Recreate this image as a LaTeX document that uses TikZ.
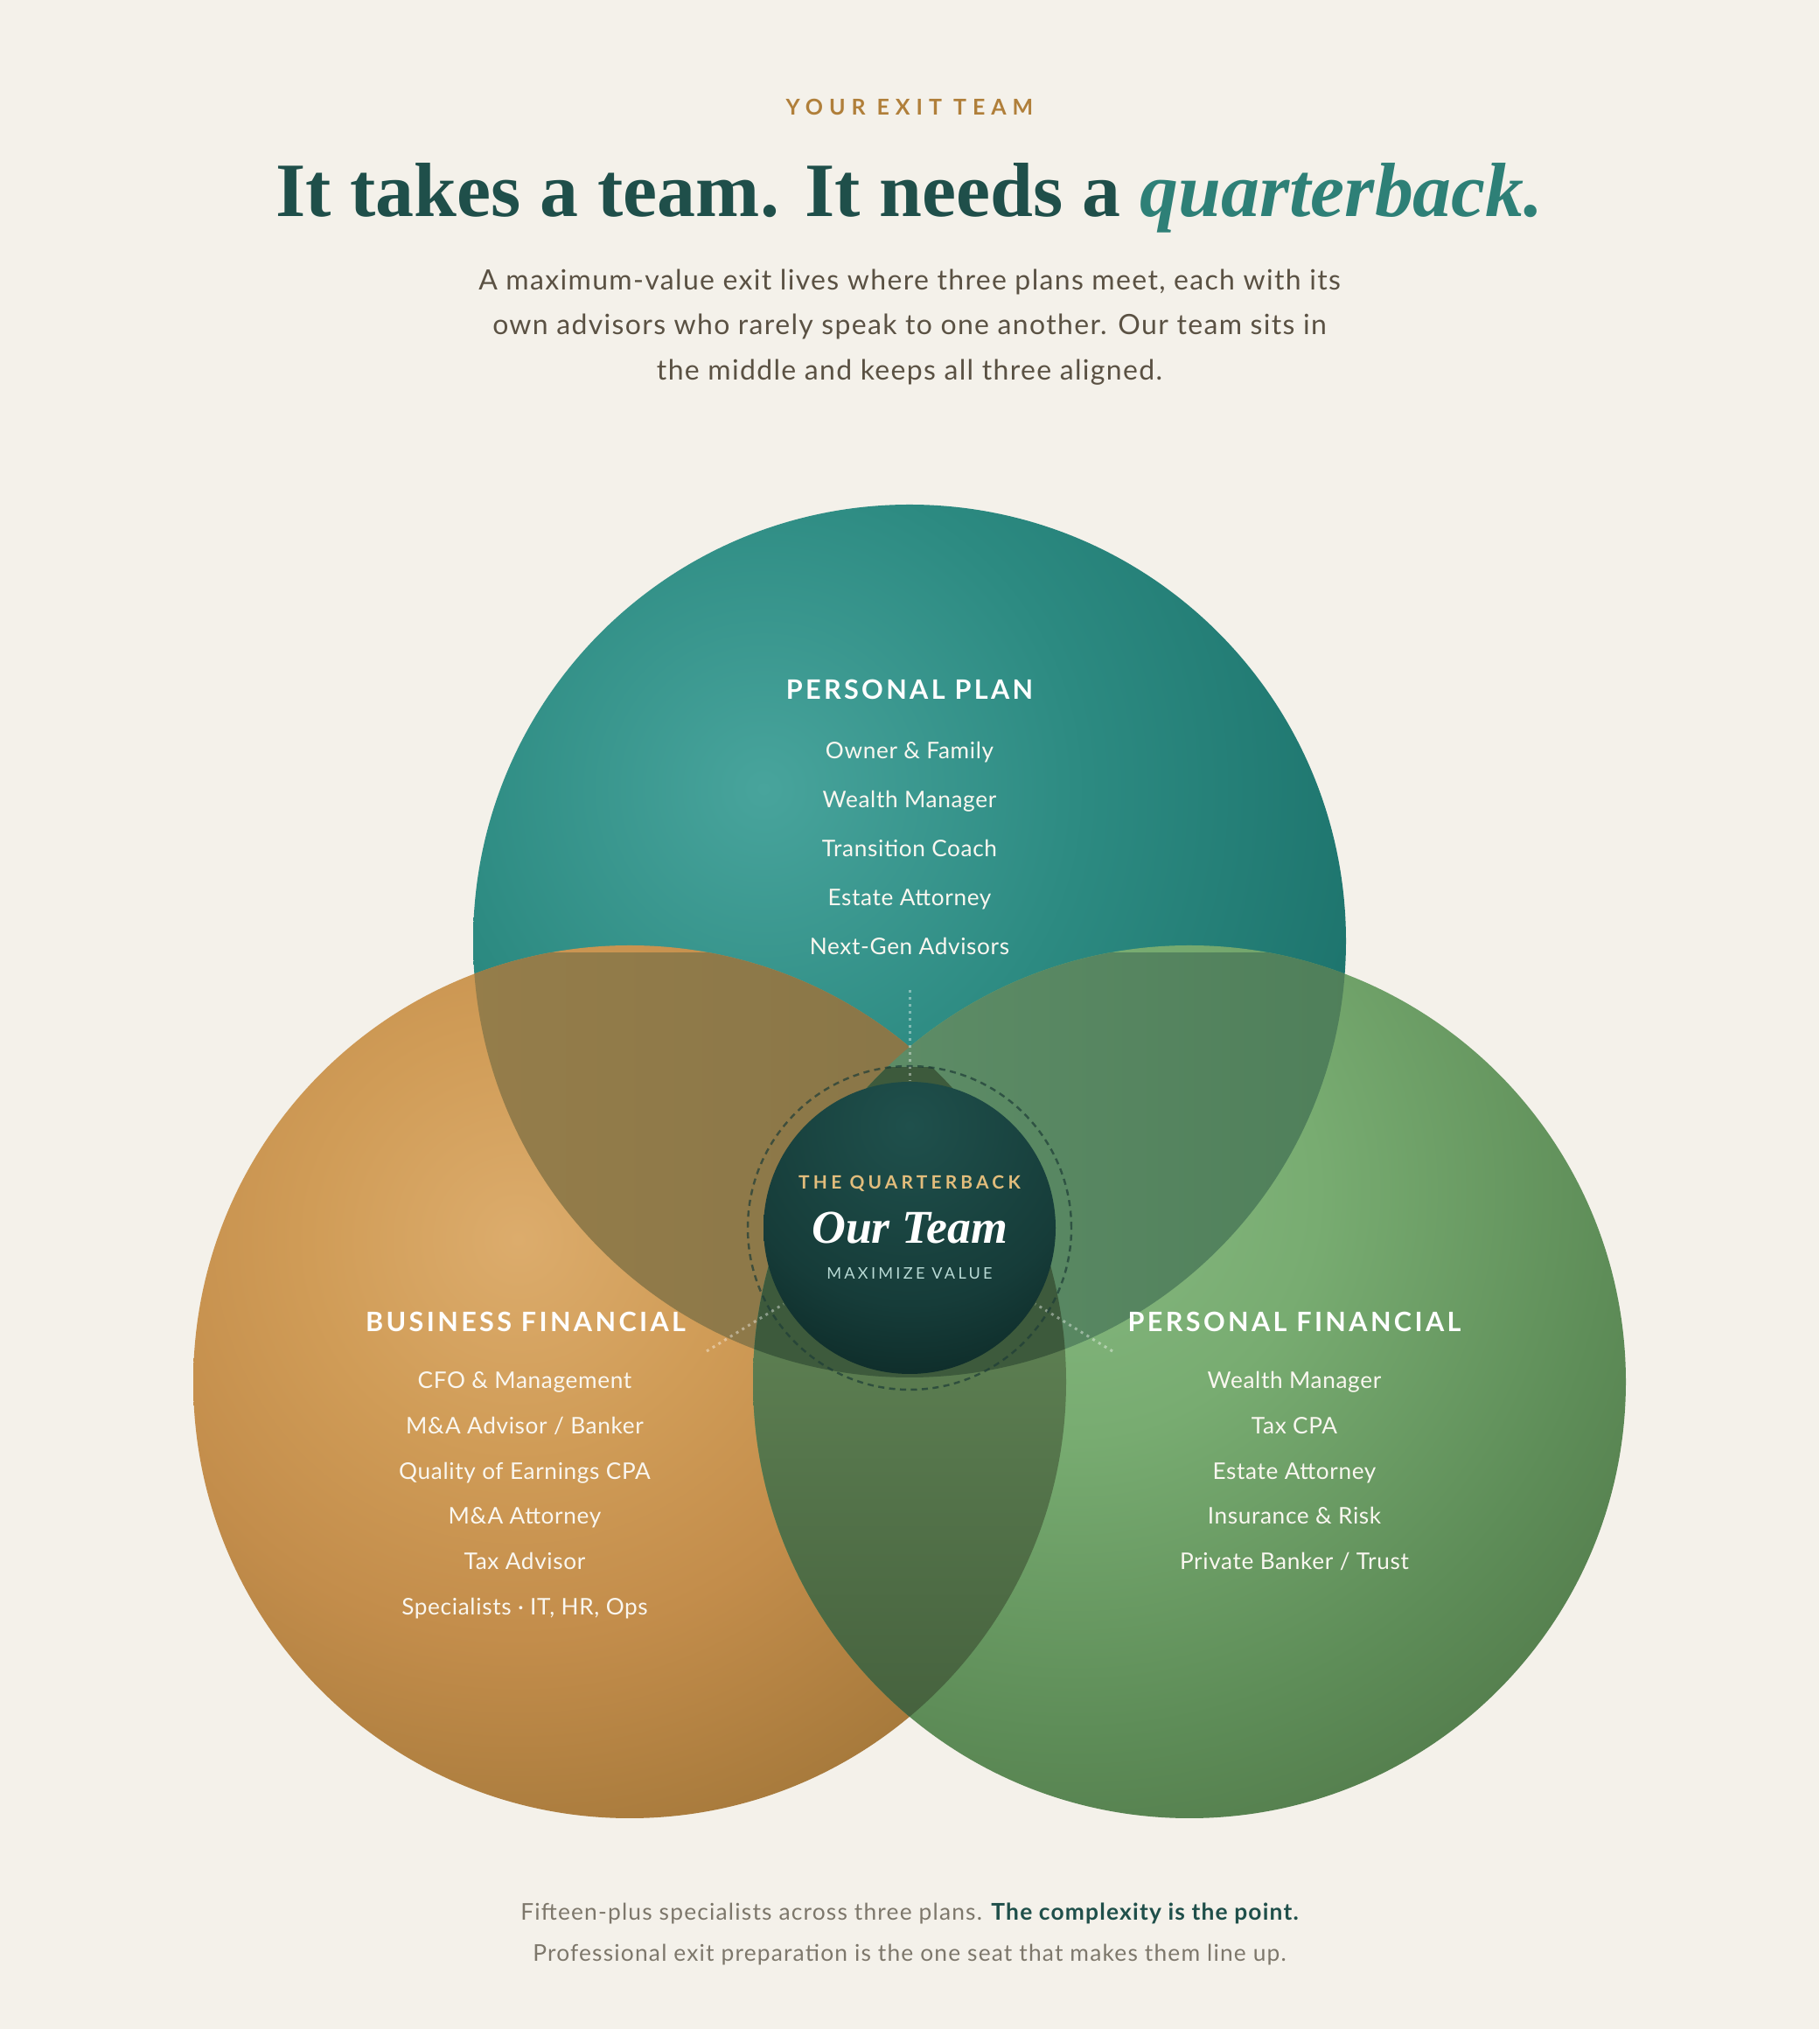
\documentclass[tikz,border=0pt]{standalone}
\usepackage{fontspec}
\setmainfont{Lato}
\newfontfamily\serifhead{Liberation Serif}
\usepackage{tikz}

% palette
\definecolor{pagebg}{HTML}{F4F1EA}
\definecolor{eyebrowink}{HTML}{B07F3A}
\definecolor{titleink}{HTML}{1F4F4A}
\definecolor{titleteal}{HTML}{2E8077}
\definecolor{subink}{HTML}{5A5143}
\definecolor{footink}{HTML}{7D776B}
\definecolor{itemink}{HTML}{FAF7F0}
\definecolor{qbgold}{HTML}{E2BD7C}
\definecolor{qbmint}{HTML}{B8DAD5}
\definecolor{tealhi}{HTML}{48A49C}
\definecolor{tealmid}{HTML}{2C8A81}
\definecolor{tealdk}{HTML}{1E756E}
\definecolor{goldhi}{HTML}{DCAC6C}
\definecolor{goldmid}{HTML}{D09C57}
\definecolor{goldlo}{HTML}{C38D4B}
\definecolor{golddk}{HTML}{A07538}
\definecolor{greenhi}{HTML}{86B880}
\definecolor{greenmid}{HTML}{78AC71}
\definecolor{greenlo}{HTML}{5E8D58}
\definecolor{greendk}{HTML}{557F4E}
\definecolor{qbhi}{HTML}{1F504C}
\definecolor{qbmid}{HTML}{163C39}
\definecolor{qbdk}{HTML}{0F2E2B}
\definecolor{ringink}{HTML}{1E3D37}
\definecolor{lensTLa}{HTML}{957D4A}
\definecolor{lensTLb}{HTML}{857447}
\definecolor{lensTRa}{HTML}{62906A}
\definecolor{lensTRb}{HTML}{4F7F5A}
\definecolor{lensLRa}{HTML}{5D7F52}
\definecolor{lensLRb}{HTML}{46623E}
\definecolor{tripleink}{HTML}{3D5A3C}

% glows, absolute radii (1cm = 28.35bp), centred on the highlight
\pgfdeclareradialshading{tealglow}{\pgfpointorigin}{color(0bp)=(tealhi); color(105bp)=(tealmid); color(196bp)=(tealdk); color(216bp)=(tealdk)}
\pgfdeclareradialshading{goldglow}{\pgfpointorigin}{color(0bp)=(goldhi); color(68bp)=(goldmid); color(129bp)=(goldlo); color(219bp)=(golddk); color(226bp)=(golddk)}
\pgfdeclareradialshading{greenglow}{\pgfpointorigin}{color(0bp)=(greenhi); color(79bp)=(greenmid); color(175bp)=(greenlo); color(218bp)=(greendk); color(222bp)=(greendk)}
\pgfdeclareradialshading{qbglow}{\pgfpointorigin}{color(0bp)=(qbhi); color(58bp)=(qbmid); color(81bp)=(qbdk); color(84bp)=(qbdk)}

\begin{document}
\begin{tikzpicture}[
  glow/.style={inner sep=0pt, outer sep=0pt},
  eyebrowtxt/.style={font=\fontsize{7.1}{8}\selectfont\bfseries\addfontfeatures{LetterSpace=28}, text=eyebrowink, anchor=base},
  titletxt/.style={font=\serifhead\bfseries\fontsize{25}{30}\selectfont, text=titleink, anchor=base},
  subtxt/.style={font=\fontsize{9.1}{10}\selectfont\addfontfeatures{LetterSpace=4.2}, text=subink, anchor=base},
  headtxt/.style={font=\fontsize{8.7}{10}\selectfont\bfseries\addfontfeatures{LetterSpace=11}, text=white, anchor=base},
  itemtxt/.style={font=\fontsize{7.45}{9}\selectfont\addfontfeatures{LetterSpace=2.5}, text=itemink, anchor=base},
  qbtag/.style={font=\fontsize{5.95}{7}\selectfont\bfseries\addfontfeatures{LetterSpace=20}, text=qbgold, anchor=base},
  qbname/.style={font=\serifhead\bfseries\itshape\fontsize{15.3}{17}\selectfont, text=white, anchor=base},
  qbsub/.style={font=\fontsize{5.16}{6}\selectfont\addfontfeatures{LetterSpace=18}, text=qbmint, anchor=base},
  foottxt/.style={font=\fontsize{7.5}{8}\selectfont\addfontfeatures{LetterSpace=4.5}, text=footink, anchor=base},
  spoke/.style={white, opacity=0.4, line width=0.85pt, dash pattern=on 0.85pt off 1.4pt},
  ring/.style={ringink, opacity=0.7, line width=0.7pt, dash pattern=on 2pt off 1.55pt}
]

  % page: 1 unit = 100 px
  \useasboundingbox (0,0) rectangle (20.8,23.2);
  \fill[pagebg] (0,0) rectangle (20.8,23.2);
  \def\plr{4.99}

  % --- Circle centres ---
  \coordinate (ctop) at (10.40,12.44);
  \coordinate (cleft) at (7.20,7.40);
  \coordinate (cright) at (13.60,7.40);
  \coordinate (ctr) at (10.40,9.16);

  % --- Personal Plan (teal) ---
  \begin{scope}
    \clip (ctop) circle (\plr);
    \node[glow] (tealglowbox) at (8.73,14.18) {\pgfuseshading{tealglow}};
  \end{scope}

  % --- Business Financial (gold) ---
  \begin{scope}
    \clip (cleft) circle (\plr);
    \node[glow] (goldglowbox) at (5.92,9.03) {\pgfuseshading{goldglow}};
  \end{scope}

  % --- Personal Financial (green) ---
  \begin{scope}
    \clip (cright) circle (\plr);
    \node[glow] (greenglowbox) at (12.28,9.59) {\pgfuseshading{greenglow}};
  \end{scope}

  % --- Overlaps ---
  \begin{scope}
    \clip (ctop) circle (\plr);
    \clip (cleft) circle (\plr);
    \shade[left color=lensTLa, right color=lensTLb] (5.3,7.4) rectangle (12.3,12.3);
  \end{scope}
  \begin{scope}
    \clip (ctop) circle (\plr);
    \clip (cright) circle (\plr);
    \shade[left color=lensTRa, right color=lensTRb] (8.5,7.4) rectangle (15.5,12.3);
  \end{scope}
  \begin{scope}
    \clip (cleft) circle (\plr);
    \clip (cright) circle (\plr);
    \shade[top color=lensLRa, bottom color=lensLRb] (8.3,3.5) rectangle (12.5,8.0);
  \end{scope}
  \begin{scope}
    \clip (ctop) circle (\plr);
    \clip (cleft) circle (\plr);
    \clip (cright) circle (\plr);
    \fill[tripleink] (7,6) rectangle (14,11);
  \end{scope}

  % --- Dotted spokes into the centre ---
  \coordinate (spt1) at (10.40,11.88);
  \coordinate (spt2) at (10.40,10.85);
  \coordinate (spl1) at (8.08,7.75);
  \coordinate (spl2) at (8.96,8.29);
  \coordinate (spr1) at (12.72,7.75);
  \coordinate (spr2) at (11.84,8.29);
  \draw[spoke] (spt1) -- (spt2);
  \draw[spoke] (spl1) -- (spl2);
  \draw[spoke] (spr1) -- (spr2);

  % --- Quarterback disc ---
  \draw[ring] (ctr) circle (1.85);
  \begin{scope}
    \clip (ctr) circle (1.67);
    \node[glow] (qbglowbox) at (10.40,10.33) {\pgfuseshading{qbglow}};
  \end{scope}
  \node[qbtag] (qbtag) at (10.40,9.60) {THE QUARTERBACK};
  \node[qbname] (qbname) at (10.40,8.98) {Our Team};
  \node[qbsub] (qbsub) at (10.40,8.57) {MAXIMIZE VALUE};

  % --- Header ---
  \node[eyebrowtxt] (eyebrow) at (10.40,21.88) {YOUR EXIT TEAM};
  \node[titletxt] (title) at (10.40,20.72) {It takes a team. It needs a \textcolor{titleteal}{\itshape quarterback.}};
  \node[subtxt] (sub1) at (10.40,19.88) {A maximum-value exit lives where three plans meet, each with its};
  \node[subtxt] (sub2) at (10.40,19.37) {own advisors who rarely speak to one another. Our team sits in};
  \node[subtxt] (sub3) at (10.40,18.85) {the middle and keeps all three aligned.};

  % --- Personal Plan list ---
  \node[headtxt] (pphead) at (10.40,15.20) {PERSONAL PLAN};
  \node[itemtxt] (pp1) at (10.40,14.52) {Owner \& Family};
  \node[itemtxt] (pp2) at (10.40,13.96) {Wealth Manager};
  \node[itemtxt] (pp3) at (10.40,13.40) {Transition Coach};
  \node[itemtxt] (pp4) at (10.40,12.84) {Estate Attorney};
  \node[itemtxt] (pp5) at (10.40,12.28) {Next-Gen Advisors};

  % --- Business Financial list ---
  \node[headtxt] (bfhead) at (6.01,7.97) {BUSINESS FINANCIAL};
  \node[itemtxt] (bf1) at (6.00,7.32) {CFO \& Management};
  \node[itemtxt] (bf2) at (6.00,6.80) {M\&A Advisor / Banker};
  \node[itemtxt] (bf3) at (6.00,6.28) {Quality of Earnings CPA};
  \node[itemtxt] (bf4) at (6.00,5.77) {M\&A Attorney};
  \node[itemtxt] (bf5) at (6.00,5.25) {Tax Advisor};
  \node[itemtxt] (bf6) at (6.00,4.73) {Specialists · IT, HR, Ops};

  % --- Personal Financial list ---
  \node[headtxt] (pfhead) at (14.80,7.97) {PERSONAL FINANCIAL};
  \node[itemtxt] (pf1) at (14.80,7.32) {Wealth Manager};
  \node[itemtxt] (pf2) at (14.80,6.80) {Tax CPA};
  \node[itemtxt] (pf3) at (14.80,6.28) {Estate Attorney};
  \node[itemtxt] (pf4) at (14.80,5.77) {Insurance \& Risk};
  \node[itemtxt] (pf5) at (14.80,5.25) {Private Banker / Trust};

  % --- Footer ---
  \node[foottxt] (foot1) at (10.40,1.25) {Fifteen-plus specialists across three plans. \textcolor{titleink}{\bfseries The complexity is the point.}};
  \node[foottxt] (foot2) at (10.40,0.78) {Professional exit preparation is the one seat that makes them line up.};

\end{tikzpicture}
\end{document}
